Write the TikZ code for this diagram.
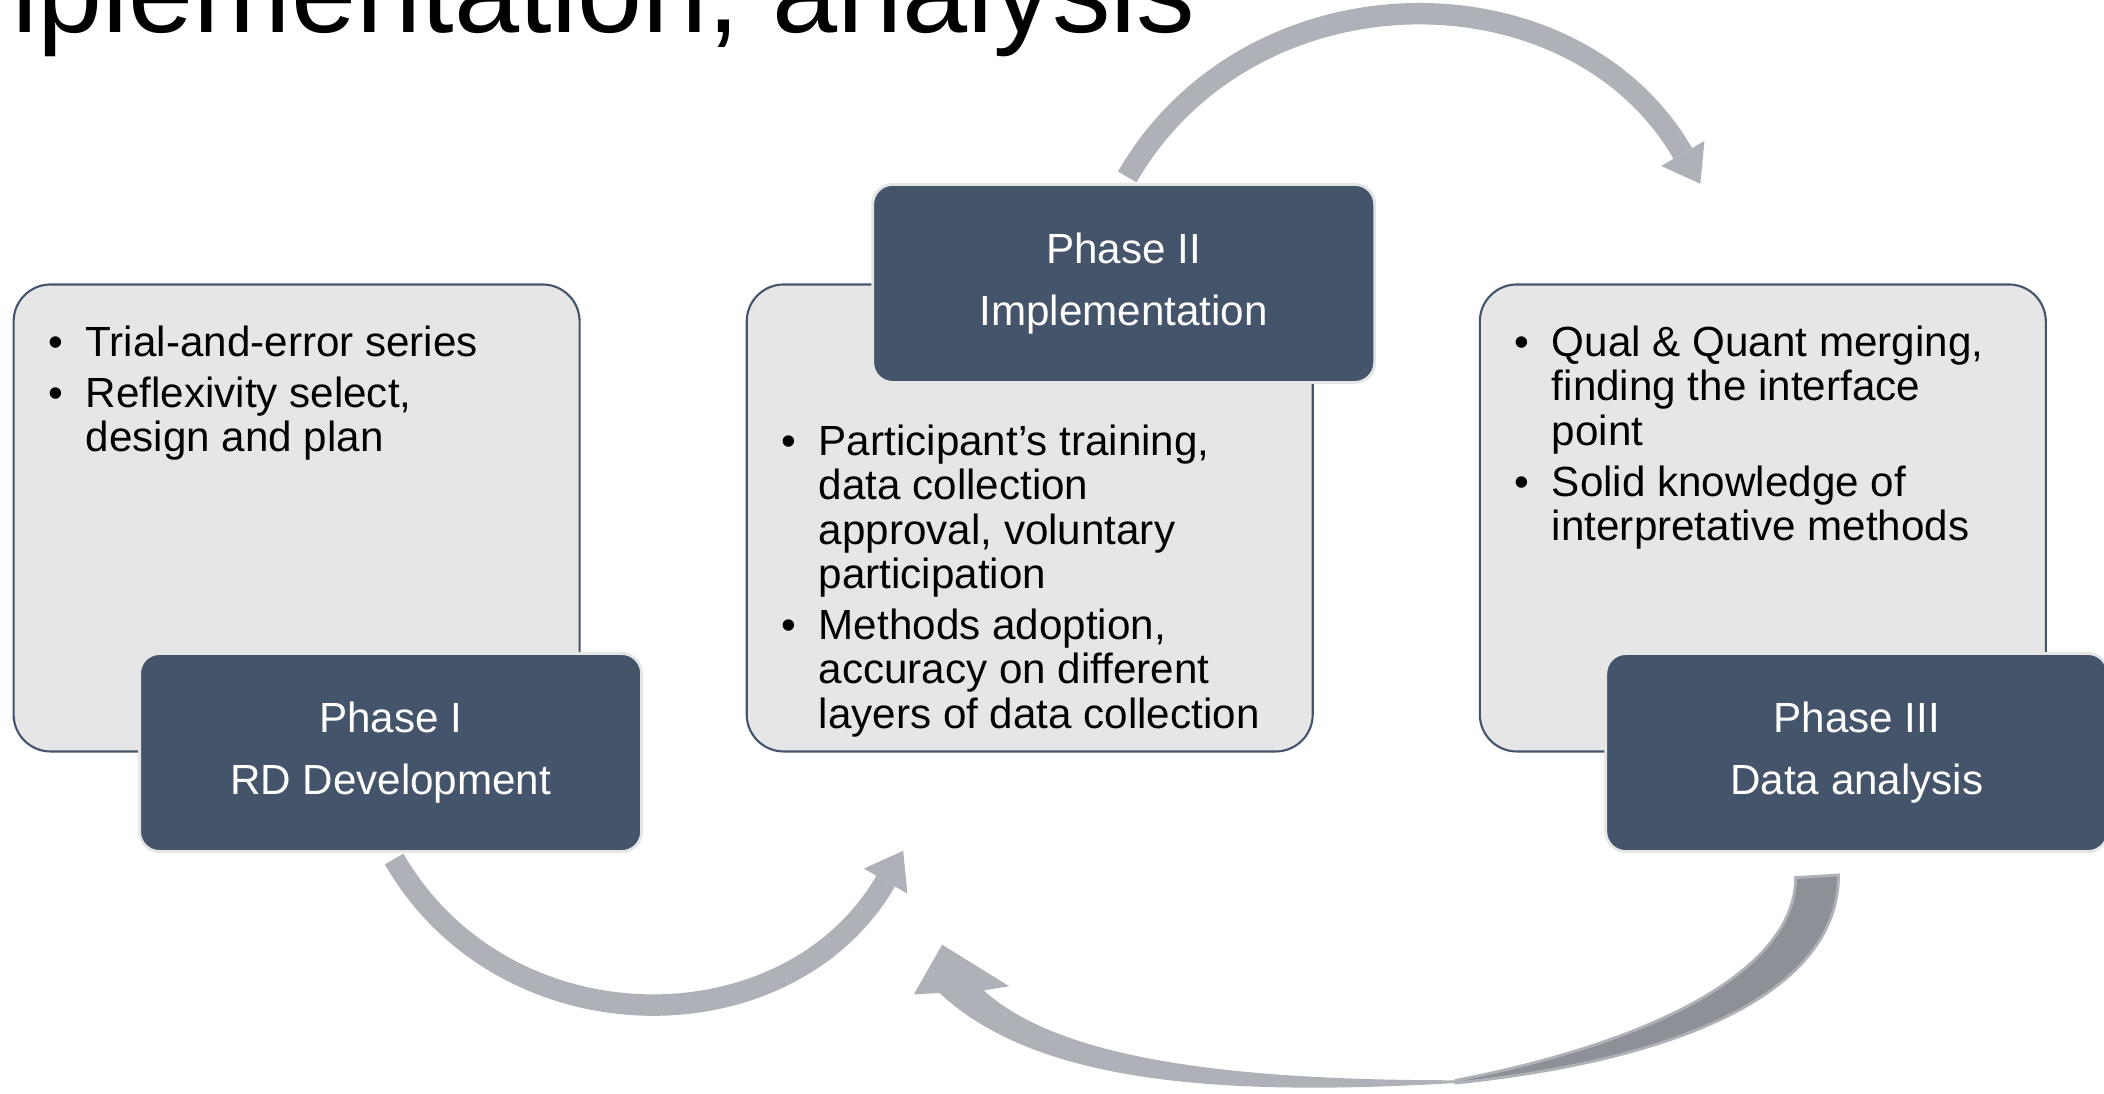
\documentclass[tikz,border=0pt]{standalone}
\usepackage{fontspec}
\setmainfont{Liberation Sans}
\usetikzlibrary{positioning, arrows.meta}

\definecolor{slate}{RGB}{68,84,106}
\definecolor{panelgray}{RGB}{230,230,230}
\definecolor{flowgray}{RGB}{174,177,184}
\definecolor{flowdark}{RGB}{141,144,150}

\newcommand{\bul}{\makebox[0.725cm][l]{\hspace{0.35cm}\textbullet}}
\newcommand{\ind}{\hspace*{0.725cm}}

\begin{document}
\begin{tikzpicture}[node distance=1.65cm]
\tikzstyle{every node}=[inner sep=0pt]
\tikzstyle{panel}=[draw=slate, line width=0.6pt, fill=panelgray, rounded corners=0.37cm, minimum width=5.66cm, minimum height=4.67cm]
\tikzstyle{phase}=[draw=gray!20, line width=0.8pt, fill=slate, text=white, rounded corners=0.2cm, minimum width=5.02cm, minimum height=1.98cm, align=center, font=\fontsize{12}{17.5}\selectfont]
\tikzstyle{items}=[anchor=north west, align=left, font=\fontsize{12}{12.6}\selectfont]
\tikzstyle{flow}=[draw=flowgray, line width=6.1pt, -{Triangle[width=0.5cm, length=0.35cm, line width=0pt]}]

\fill[white] (0,0) rectangle (21.04,10.937);
\useasboundingbox (0,0) rectangle (21.04,10.937);

\node[anchor=base west, font=\fontsize{33.3}{40}\selectfont] (H) at (-0.864,10.607) {implementation, analysis};

\node[panel] (B1) at (2.966,5.757) {};
\node[panel, right=of B1] (B2) {};
\node[panel, right=of B2] (B3) {};

\node[items] (T1) at ([yshift=-0.42cm]B1.north west) {\bul Trial-and-error series\\[1.9pt]\bul Reflexivity select,\\\ind design and plan};
\node[items] (T2) at ([yshift=-1.41cm]B2.north west) {\bul Participant’s training,\\\ind data collection\\\ind approval, voluntary\\\ind participation\\[1.9pt]\bul Methods adoption,\\\ind accuracy on different\\\ind layers of data collection};
\node[items] (T3) at ([yshift=-0.42cm]B3.north west) {\bul Qual \& Quant merging,\\\ind finding the interface\\\ind point\\[1.9pt]\bul Solid knowledge of\\\ind interpretative methods};

\node[phase] (P1) at ([xshift=0.94cm]B1.south) {Phase I\\RD Development};
\node[phase] (P2) at ([xshift=0.94cm]B2.north) {Phase II\\Implementation};
\node[phase] (P3) at ([xshift=0.94cm]B3.south) {Phase III\\Data analysis};

\coordinate (E1) at (17.003,9.099);
\coordinate (E2) at (9.032,2.429);
\draw[flow, shorten <=2pt] (P2.north) to[out=60, in=120, looseness=1.13] (E1);
\draw[flow, shorten <=2pt] (P1.south) to[out=-60, in=-120, looseness=1.14] (E2);

\fill[flowgray] (9.394,1.007) .. controls (10.333,0.134) and (12.078,-0.040) .. (14.561,0.107)
  -- (14.561,0.134) .. controls (12.346,0.134) and (10.602,0.336) .. (9.837,1.033)
  -- (10.092,1.074) -- (9.421,1.490) -- (9.139,0.993) -- cycle;
\filldraw[fill=flowdark, draw=flowgray, line width=0.8pt] (14.561,0.107) .. controls (16.775,0.336) and (18.385,1.007) .. (18.385,2.187)
  -- (17.956,2.161) .. controls (17.956,1.275) and (16.641,0.537) .. (14.561,0.134) -- cycle;
\end{tikzpicture}
\end{document}
